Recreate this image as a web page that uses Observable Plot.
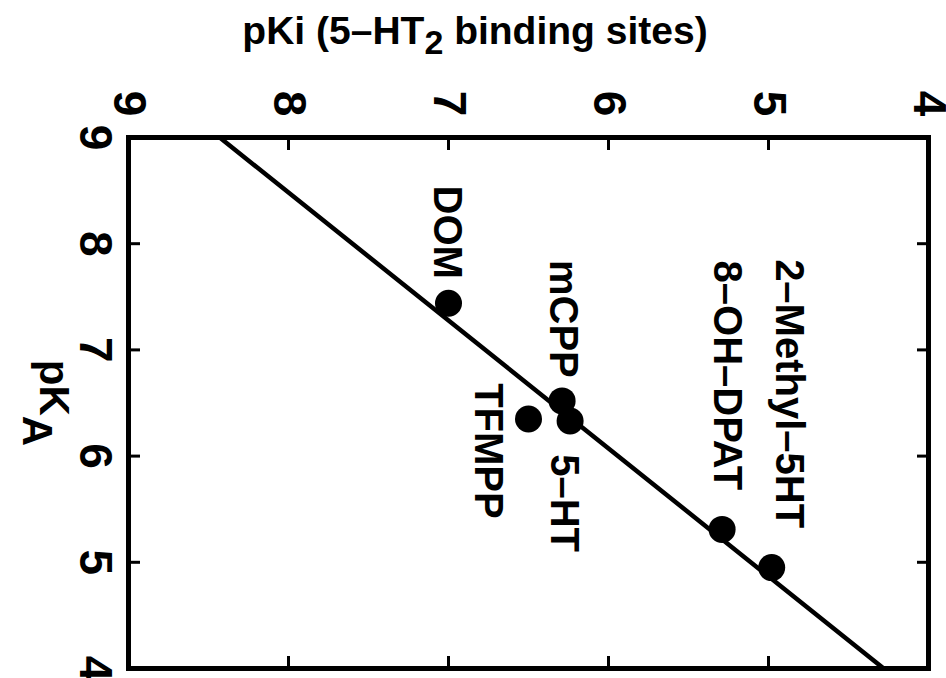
<!DOCTYPE html>
<html><head><meta charset="utf-8">
<script src="https://cdn.jsdelivr.net/npm/d3@7"></script>
<script src="https://cdn.jsdelivr.net/npm/@observablehq/plot@0.6"></script>
<style>
html,body{margin:0;padding:0;background:#fff;}
#title{height:68px;line-height:68px;font:bold 39px "Liberation Sans",Arial,sans-serif;text-align:center;white-space:nowrap;color:#000;padding-left:4px;position:relative;top:9px;}
#title sub{font-size:34px;vertical-align:baseline;position:relative;top:10px;}
</style></head><body>
<div id="title">pKi (5–HT<sub>2</sub> binding sites)</div>
<div id="chart"></div>
<script>
const xTicks = [9, 8, 7, 6, 5, 4];
const yTicks = [9, 8, 7, 6, 5, 4];
const compounds = ["DOM", "mCPP", "5–HT", "TFMPP", "8–OH–DPAT", "2–Methyl–5HT"];
const pKi = [7.0, 6.29, 6.24, 6.5, 5.29, 4.98];
const pKA = [7.44, 6.52, 6.33, 6.35, 5.31, 4.95];
const fitPKi = [8.43, 4.28];
const fitPKA = [9, 4];

const points = compounds.map((name, i) => ({name, pKi: pKi[i], pKA: pKA[i]}));
const fit = fitPKi.map((v, i) => ({pKi: v, pKA: fitPKA[i]}));

// label placement (screen offsets from each point)
const labelOffsets = {
  "DOM": [-2, -71],
  "mCPP": [1, -82],
  "5–HT": [-6, 82],
  "TFMPP": [-41, 32],
  "8–OH–DPAT": [5, -154],
  "2–Methyl–5HT": [17, -174]
};

const font = '"Liberation Sans", Arial, sans-serif';
const tickOpts = {tickSize: -12, strokeWidth: 3, fill: "none", label: null};
const labelOpts = {tickSize: 0, tickPadding: 34, tickRotate: 90, tickFormat: d => String(d), textAnchor: "middle", lineAnchor: "middle", fontSize: 46, fontWeight: "bold", label: null};

const chart = Plot.plot({
  width: 946, height: 610,
  marginTop: 69, marginBottom: 10, marginLeft: 128, marginRight: 18,
  style: {fontFamily: font, fontWeight: "bold", color: "#000", background: "#fff", overflow: "visible"},
  x: {domain: [9, 4]},
  y: {domain: [4, 9]},
  marks: [
    Plot.axisX(xTicks, {anchor: "top", ...labelOpts}),
    Plot.axisY(yTicks, {anchor: "left", ...labelOpts}),
    Plot.axisX(xTicks, {anchor: "top", ...tickOpts}),
    Plot.axisX(xTicks, {anchor: "bottom", ...tickOpts}),
    Plot.axisY(yTicks, {anchor: "left", ...tickOpts}),
    Plot.axisY(yTicks, {anchor: "right", ...tickOpts}),
    Plot.frame({stroke: "#000", strokeWidth: 5}),
    Plot.line(fit, {x: "pKi", y: "pKA", stroke: "#000", strokeWidth: 4.5}),
    Plot.dot(points, {x: "pKi", y: "pKA", r: 13.5, fill: "#000"}),
    ...compounds.map(name => Plot.text(points.filter(d => d.name === name), {
      x: "pKi", y: "pKA", text: "name", rotate: 90,
      fontSize: 40, fontWeight: "bold", lineAnchor: "middle", fill: "#000",
      dx: labelOffsets[name][0], dy: labelOffsets[name][1]
    })),
    Plot.text(["pKA"], {frameAnchor: "left", text: d => d, rotate: 90, dx: -75, fontSize: 42, fontWeight: "bold", textAnchor: "middle", lineAnchor: "middle", fill: "#000"})
  ]
});

d3.select(chart).selectAll("text").filter(function() { return this.textContent === "pKA"; }).each(function() {
  const t = d3.select(this);
  t.text(null).attr("text-anchor", "middle");
  t.append("tspan").text("pK");
  t.append("tspan").attr("dy", "0.4em").text("A");
});

document.getElementById("chart").appendChild(chart);
</script></body></html>
